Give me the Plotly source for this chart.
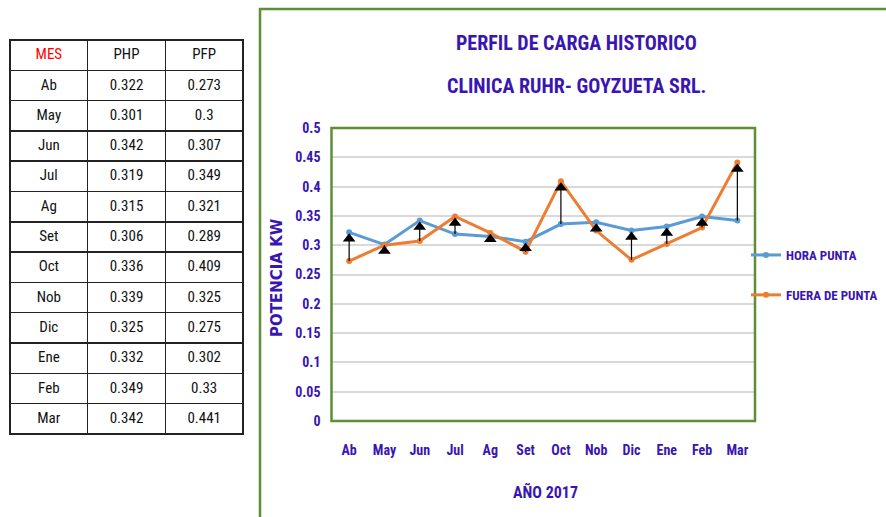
import plotly.graph_objects as go

meses = ["Ab", "May", "Jun", "Jul", "Ag", "Set", "Oct", "Nob", "Dic", "Ene", "Feb", "Mar"]
php = [0.322, 0.301, 0.342, 0.319, 0.315, 0.306, 0.336, 0.339, 0.325, 0.332, 0.349, 0.342]
pfp = [0.273, 0.3, 0.307, 0.349, 0.321, 0.289, 0.409, 0.325, 0.275, 0.302, 0.33, 0.441]
php_txt = ["0.322", "0.301", "0.342", "0.319", "0.315", "0.306", "0.336", "0.339", "0.325", "0.332", "0.349", "0.342"]
pfp_txt = ["0.273", "0.3", "0.307", "0.349", "0.321", "0.289", "0.409", "0.325", "0.275", "0.302", "0.33", "0.441"]

W, H = 886, 517
PURPLE = "#3A16B0"
GREEN = "#5E8F35"
BLUE = "#5B9BD5"
ORANGE = "#ED7D31"
NARROW = "Liberation Sans Narrow, Roboto Condensed, Arial Narrow, sans-serif"

def px(x):
    return x / W

def py(y):
    return 1 - y / H

HEAD_OFFSET = 0.011  # arrowhead centre sits just below the higher value

fig = go.Figure()

# Table
fig.add_trace(go.Table(
    domain=dict(x=[px(10), px(243)], y=[py(442), py(40)]),
    columnwidth=[1, 1, 1],
    header=dict(values=["MES", "PHP", "PFP"], height=30.3,
                fill_color="white", line=dict(color="#222222", width=1.5),
                align="center",
                font=dict(family=NARROW, size=15, color=["#FF0000", "#111111", "#111111"])),
    cells=dict(values=[meses, php_txt, pfp_txt], height=30.3,
               fill_color="white", line=dict(color="#222222", width=1.5),
               align="center",
               font=dict(family=NARROW, size=15, color="#111111")),
))

fig.add_trace(go.Scatter(
    x=meses, y=php, name="<b>HORA PUNTA</b>", mode="lines+markers",
    line=dict(color=BLUE, width=3), marker=dict(size=6, color=BLUE),
    legendgroup="a",
))
fig.add_trace(go.Scatter(
    x=meses, y=pfp, name="<b>FUERA DE PUNTA</b>", mode="lines+markers",
    line=dict(color=ORANGE, width=3), marker=dict(size=6, color=ORANGE),
    legendgroup="b",
))

# arrows from the lower to the higher value of each month
shaft_x, shaft_y, head_y = [], [], []
for m, a, b in zip(meses, php, pfp):
    lo, hi = min(a, b), max(a, b)
    shaft_x += [m, m, None]
    shaft_y += [lo, hi - HEAD_OFFSET, None]
    head_y.append(hi - HEAD_OFFSET)

fig.add_trace(go.Scatter(
    x=shaft_x, y=shaft_y, mode="lines", line=dict(color="black", width=1.2),
    showlegend=False, hoverinfo="skip", connectgaps=False,
))
fig.add_trace(go.Scatter(
    x=meses, y=head_y, mode="markers",
    marker=dict(symbol="triangle-up", size=11, color="black"),
    showlegend=False, hoverinfo="skip",
))

annotations = [
    dict(text="<b>PERFIL DE CARGA HISTORICO</b>", x=px(576), y=py(43), xref="paper", yref="paper",
         showarrow=False, font=dict(family=NARROW, size=20, color=PURPLE), xanchor="center", yanchor="middle"),
    dict(text="<b>CLINICA RUHR- GOYZUETA SRL.</b>", x=px(576), y=py(86), xref="paper", yref="paper",
         showarrow=False, font=dict(family=NARROW, size=20, color=PURPLE), xanchor="center", yanchor="middle"),
    dict(text="<b>POTENCIA KW</b>", x=px(277), y=py(278), xref="paper", yref="paper", textangle=-90,
         showarrow=False, font=dict(family="DejaVu Sans, Verdana, sans-serif", size=15, color=PURPLE),
         xanchor="center", yanchor="middle"),
    dict(text="<b>AÑO 2017</b>", x=px(545), y=py(492), xref="paper", yref="paper",
         showarrow=False, font=dict(family=NARROW, size=16, color=PURPLE), xanchor="center", yanchor="middle"),
]

shapes = [
    dict(type="rect", xref="paper", yref="paper", x0=px(260), x1=px(900), y0=py(540), y1=py(9),
         line=dict(color=GREEN, width=2.5), fillcolor="rgba(0,0,0,0)", layer="below"),
    dict(type="rect", xref="paper", yref="paper", x0=px(331.5), x1=px(755), y0=py(421), y1=py(128),
         line=dict(color=GREEN, width=2.5), fillcolor="rgba(0,0,0,0)", layer="above"),
]

fig.update_layout(
    width=W, height=H,
    margin=dict(l=0, r=0, t=0, b=0, autoexpand=False),
    paper_bgcolor="white", plot_bgcolor="white",
    showlegend=True,
    legend=dict(x=px(746), y=py(240), xanchor="left", yanchor="top",
                font=dict(family=NARROW, size=13, color=PURPLE),
                tracegroupgap=20, bgcolor="rgba(0,0,0,0)", itemwidth=30),
    xaxis=dict(domain=[px(331.5), px(755)], range=[-0.5, 11.5], type="category",
               showgrid=False, zeroline=False, showline=False, automargin=False,
               ticks="", ticklabelstandoff=19,
               tickfont=dict(family=NARROW, size=14, color=PURPLE)),
    yaxis=dict(domain=[py(421), py(128)], range=[0, 0.5], dtick=0.05, automargin=False,
               showgrid=True, gridcolor="#D9D9D9", gridwidth=1.5,
               zeroline=False, showline=False, ticks="", ticklabelstandoff=10,
               tickfont=dict(family=NARROW, size=14, color=PURPLE)),
    annotations=annotations,
    shapes=shapes,
)
fig.update_xaxes(tickprefix="<b>", ticksuffix="</b>")
fig.update_yaxes(tickprefix="<b>", ticksuffix="</b>")

css_fix = (
    "var s=document.createElement('style');"
    "s.textContent='html,body{margin:0!important;padding:0!important;overflow:hidden!important;}';"
    "document.head.appendChild(s);"
)
fig.write_html("out.html", post_script=css_fix, config={"displayModeBar": False})
